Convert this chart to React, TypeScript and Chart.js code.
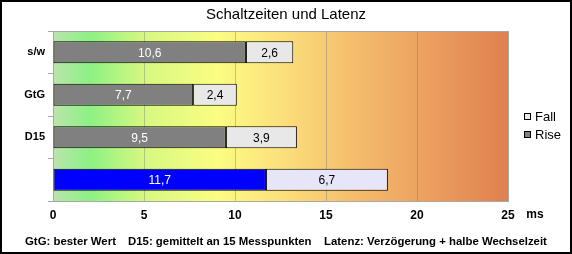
import React, { useEffect, useRef } from "react";
import { Chart, registerables } from "chart.js";

Chart.register(...registerables);

const title = "Schaltzeiten und Latenz";
const categories = ["s/w", "GtG", "D15", ""];
const riseValues = [10.6, 7.7, 9.5, 11.7];
const fallValues = [2.6, 2.4, 3.9, 6.7];
const seriesNames = ["Rise", "Fall"];
const xMin = 0;
const xMax = 25;
const xStep = 5;
const unitLabel = "ms";
const footnotes = [
  "GtG: bester Wert",
  "D15: gemittelt an 15 Messpunkten",
  "Latenz: Verzögerung + halbe Wechselzeit",
];

const FONT = "'Liberation Sans', Arial, sans-serif";
const riseColors = ["#808080", "#808080", "#808080", "#0000ff"];
const fallColors = ["#e8e8e8", "#e8e8e8", "#e8e8e8", "#e6e6f8"];

const fmt = (v: number) => v.toFixed(1).replace(".", ",");

const decorPlugin = {
  id: "decor",
  beforeDraw(chart: any) {
    const { ctx, chartArea: a, width, height } = chart;
    ctx.save();
    ctx.fillStyle = "#ffffff";
    ctx.fillRect(0, 0, width, height);
    const g = ctx.createLinearGradient(a.left, 0, a.right, 0);
    g.addColorStop(0, "#bce4ac");
    g.addColorStop(0.08, "#8cf184");
    g.addColorStop(0.2, "#d6f880");
    g.addColorStop(0.36, "#fbfd82");
    g.addColorStop(0.5, "#fce07c");
    g.addColorStop(0.66, "#f4bd6c");
    g.addColorStop(0.82, "#eca060");
    g.addColorStop(1, "#df8050");
    ctx.fillStyle = g;
    ctx.fillRect(a.left, a.top, a.right - a.left, a.bottom - a.top);
    ctx.restore();
  },
  beforeDatasetsDraw(chart: any) {
    const { ctx, chartArea: a } = chart;
    ctx.save();
    ctx.strokeStyle = "#a8a8a8";
    ctx.lineWidth = 1;
    ctx.beginPath();
    ctx.moveTo(a.left, a.top + 0.5);
    ctx.lineTo(a.right + 0.5, a.top + 0.5);
    ctx.lineTo(a.right + 0.5, a.bottom);
    ctx.stroke();
    ctx.restore();
  },
  afterDatasetsDraw(chart: any) {
    const { ctx } = chart;
    ctx.save();
    ctx.font = `12px ${FONT}`;
    ctx.textAlign = "center";
    ctx.textBaseline = "middle";
    chart.data.datasets.forEach((ds: any, di: number) => {
      const meta = chart.getDatasetMeta(di);
      meta.data.forEach((el: any, i: number) => {
        const v = ds.data[i];
        const cx = (el.x + el.base) / 2;
        ctx.fillStyle = di === 0 ? "#ffffff" : "#000000";
        ctx.fillText(fmt(v), cx, el.y + 1);
      });
    });
    ctx.restore();
  },
  afterDraw(chart: any) {
    const { ctx, width, height } = chart;
    ctx.save();
    // title
    ctx.fillStyle = "#000";
    ctx.font = `15px ${FONT}`;
    ctx.textAlign = "center";
    ctx.textBaseline = "middle";
    ctx.fillText(title, width / 2, 15);
    // unit
    ctx.font = `bold 12px ${FONT}`;
    ctx.fillText(unitLabel, 535, 215);
    // legend
    const items = [
      { name: seriesNames[1], color: fallColors[0], y: 117 },
      { name: seriesNames[0], color: riseColors[0], y: 135 },
    ];
    ctx.font = `13px ${FONT}`;
    ctx.textAlign = "left";
    items.forEach((it) => {
      ctx.fillStyle = it.color;
      ctx.fillRect(524, it.y - 4, 7, 7);
      ctx.strokeStyle = "#000";
      ctx.lineWidth = 1;
      ctx.strokeRect(524.5, it.y - 3.5, 6, 6);
      ctx.fillStyle = "#000";
      ctx.fillText(it.name, 535, it.y);
    });
    // footnotes
    ctx.font = `bold 11.4px ${FONT}`;
    const fx = [25, 128, 324];
    footnotes.forEach((t, i) => ctx.fillText(t, fx[i], 242));
    // frame
    ctx.strokeStyle = "#000";
    ctx.lineWidth = 2;
    ctx.strokeRect(1, 1, width - 2, height - 2);
    ctx.restore();
  },
};

export default function App() {
  const ref = useRef<HTMLCanvasElement | null>(null);
  useEffect(() => {
    document.body.style.margin = "0";
    if (!ref.current) return;
    const chart = new Chart(ref.current, {
      type: "bar",
      data: {
        labels: categories,
        datasets: [
          {
            label: seriesNames[0],
            data: riseValues,
            backgroundColor: riseColors,
            borderColor: "#000",
            borderWidth: 1,
            borderSkipped: false,
            barPercentage: 0.52,
            categoryPercentage: 1,
          },
          {
            label: seriesNames[1],
            data: fallValues,
            backgroundColor: fallColors,
            borderColor: "#000",
            borderWidth: 1,
            borderSkipped: false,
            barPercentage: 0.52,
            categoryPercentage: 1,
          },
        ],
      },
      options: {
        indexAxis: "y",
        responsive: false,
        animation: false,
        devicePixelRatio: 1,
        layout: { padding: { top: 31, right: 64, bottom: 0, left: 0 } },
        plugins: {
          legend: { display: false },
          title: { display: false },
          tooltip: { enabled: false },
        },
        scales: {
          x: {
            stacked: true,
            min: xMin,
            max: xMax,
            ticks: {
              stepSize: xStep,
              color: "#000",
              font: { family: FONT, size: 12, weight: "bold" },
              padding: 7,
            },
            grid: {
              color: "rgba(120,120,120,0.4)",
              drawTicks: false,
            },
            border: { color: "#a8a8a8" },
            afterFit: (s: any) => {
              s.height = 53;
            },
          },
          y: {
            stacked: true,
            ticks: {
              color: "#000",
              font: { family: FONT, size: 11, weight: "bold" },
              padding: 3,
            },
            grid: {
              offset: true,
              drawOnChartArea: false,
              drawTicks: true,
              tickLength: 5,
              color: "#a8a8a8",
            },
            border: { color: "#a8a8a8" },
            afterFit: (s: any) => {
              s.width = 53;
            },
          },
        },
      } as any,
      plugins: [decorPlugin],
    });
    return () => chart.destroy();
  }, []);
  return (
    <div style={{ position: "absolute", left: 0, top: 0, width: 572, height: 254 }}>
      <canvas ref={ref} width={572} height={254} style={{ width: 572, height: 254 }} />
    </div>
  );
}
